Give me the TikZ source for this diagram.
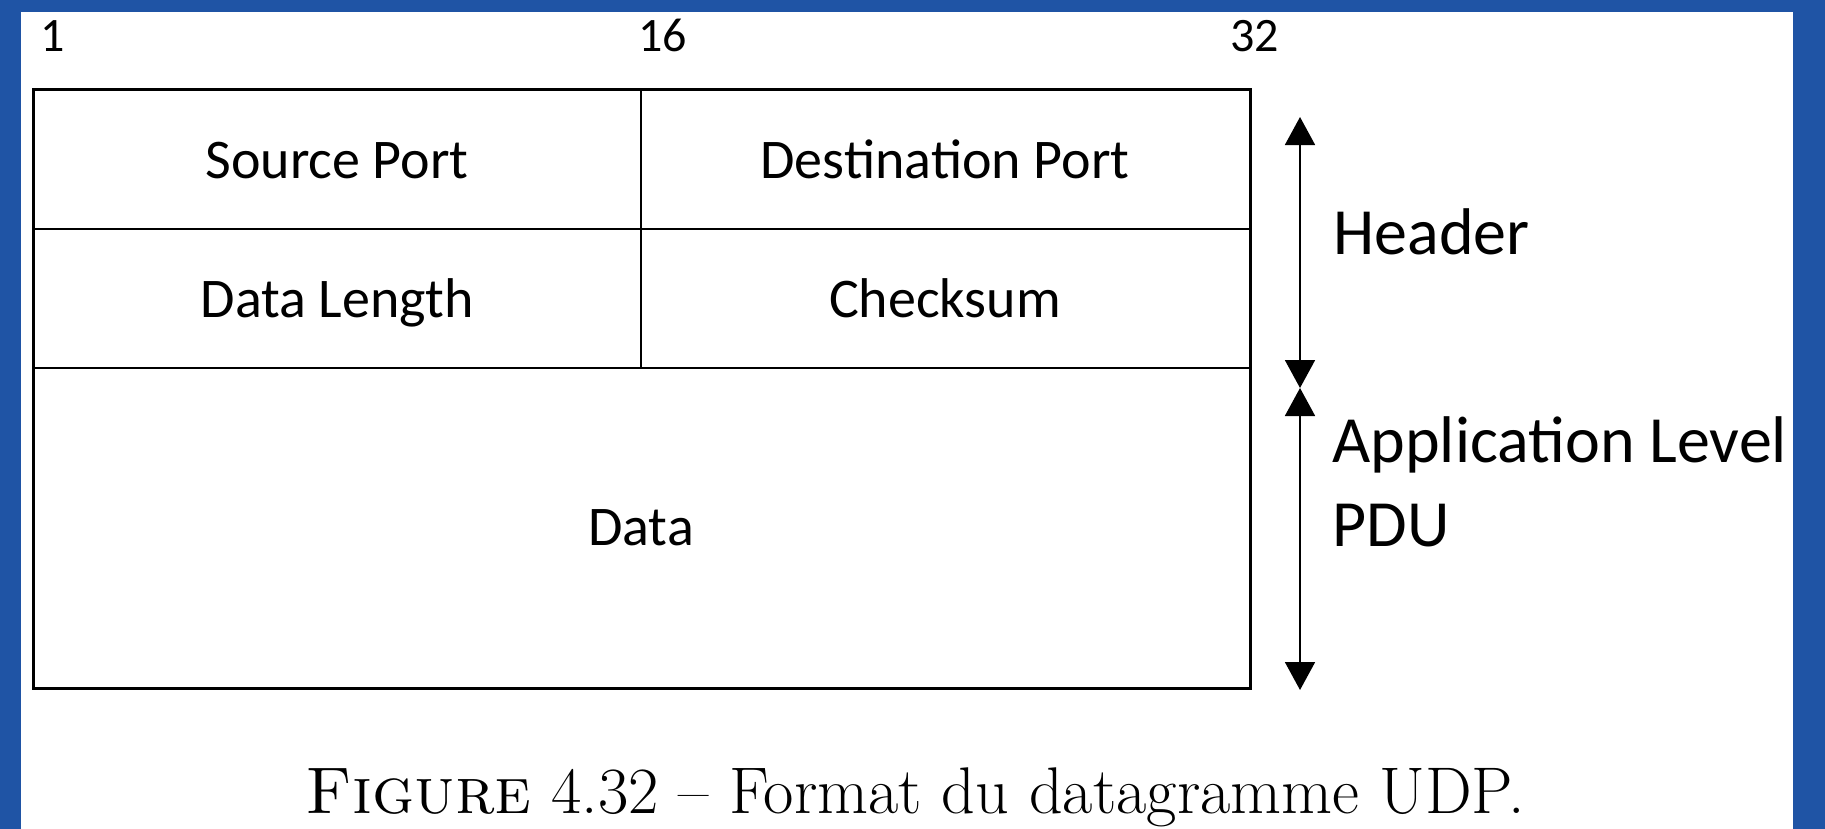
\documentclass[tikz,border=0pt]{standalone}
\usepackage{fontspec}
\newfontfamily\calibrifont{Carlito}
\usetikzlibrary{arrows.meta}
\definecolor{slideblue}{RGB}{31,84,165}

\begin{document}
\begin{tikzpicture}[x=0.5pt,y=-0.5pt,
    bitnum/.style={anchor=base west,inner sep=0pt,font=\calibrifont\fontsize{24}{29}\selectfont},
    field/.style={inner sep=0pt,text height=17.6pt,text depth=0pt,font=\calibrifont\fontsize{28}{33}\selectfont},
    side/.style={anchor=base west,inner sep=0pt,align=left,font=\calibrifont\fontsize{33}{42}\selectfont},
    span/.style={line width=0.9pt,{Triangle[length=14pt,width=15pt]}-{Triangle[length=14pt,width=15pt]}}]
  \useasboundingbox (0,0) rectangle (1825,829);
  % slide background
  \fill[slideblue] (0,0) rectangle (1825,829);
  \fill[white] (21,12) rectangle (1793,829);
  % bit positions
  \node[bitnum] (b1) at (40,52) {1};
  \node[bitnum] (b16) at (638,52) {16};
  \node[bitnum] (b32) at (1230,52) {32};
  % datagram fields
  \draw[line width=1pt] (641,90) -- (641,368)
        (33,229) -- (1250,229)
        (33,368) -- (1250,368);
  \draw[line width=1.5pt] (33,90) rectangle (1250,688);
  \node[field] (src) at (337,161) {Source Port};
  \node[field] (dst) at (945,161) {Destination Port};
  \node[field] (len) at (337,300) {Data Length};
  \node[field] (chk) at (945,300) {Checksum};
  \node[field] (data) at (641,528) {Data};
  % extents
  \coordinate (hdtop) at (1300,117);
  \coordinate (hdbot) at (1300,388);
  \coordinate (pdutop) at (1300,388);
  \coordinate (pdubot) at (1300,690);
  \draw[span] (hdtop) -- (hdbot);
  \draw[span] (pdutop) -- (pdubot);
  \node[side] (hdr) at (1333,254) {Header};
  \node[side] (pdu) at (1332,546) {Application Level\\PDU};
  % caption
  \node[anchor=base,inner sep=0pt,font=\fontsize{33}{40}\selectfont] (cap) at (915,813)
    {\textsc{Figure} 4.32 -- Format du datagramme UDP.};
\end{tikzpicture}
\end{document}
